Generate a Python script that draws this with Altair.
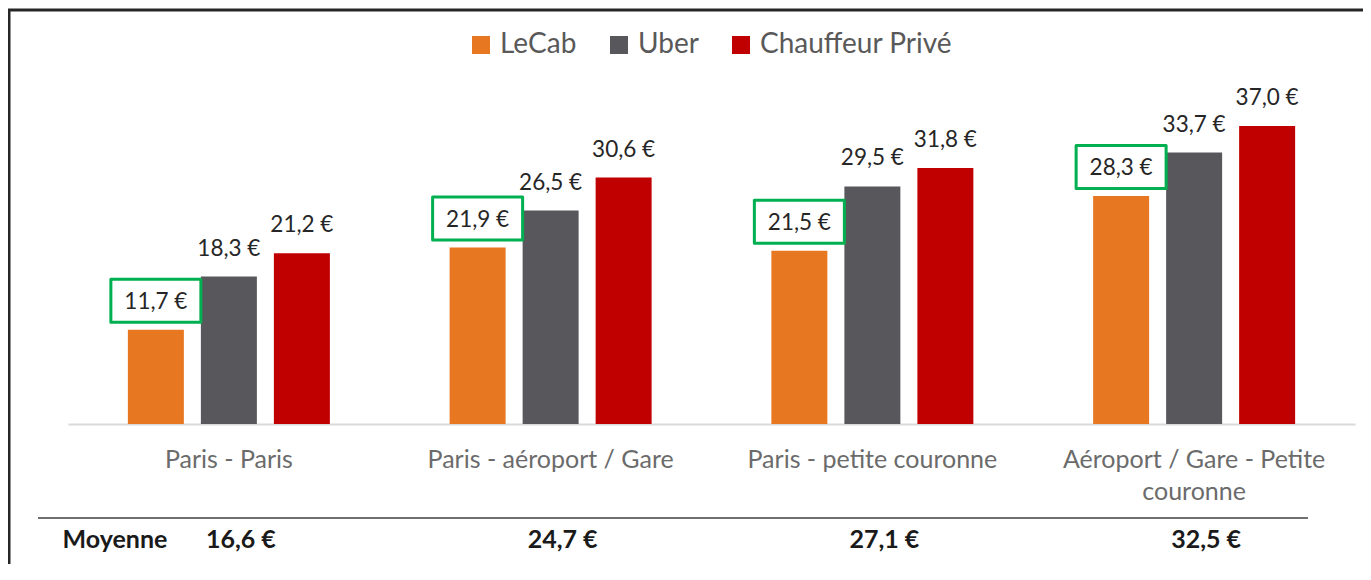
import altair as alt
import pandas as pd

categories = ["Paris - Paris", "Paris - aéroport / Gare", "Paris - petite couronne",
              "Aéroport / Gare - Petite couronne"]
series = ["LeCab", "Uber", "Chauffeur Privé"]
lecab = [11.7, 21.9, 21.5, 28.3]
uber = [18.3, 26.5, 29.5, 33.7]
chauffeur = [21.2, 30.6, 31.8, 37.0]
moyenne = [16.6, 24.7, 27.1, 32.5]
colors = ["#E87722", "#58575C", "#C00000"]

rows = []
for i, c in enumerate(categories):
    for s, vals in zip(series, [lecab, uber, chauffeur]):
        rows.append({"route": c, "operator": s, "price": vals[i]})
df = pd.DataFrame(rows)
avg_df = pd.DataFrame({"route": categories, "avg": moyenne})
one = pd.DataFrame({"k": [0]})

W, H = 1287, 404
YMAX = 50.16
FONT = "Lato"

label_expr = ("datum.value == 'Aéroport / Gare - Petite couronne' ? "
              "['Aéroport / Gare - Petite', 'couronne'] : datum.label")

x_enc = alt.X("route:N", sort=categories,
              scale=alt.Scale(domain=categories, paddingInner=0.3193, paddingOuter=0.15965),
              axis=alt.Axis(title=None, ticks=False, domainColor="#D9D9D9", domainWidth=2,
                            labelFont=FONT, labelFontSize=25, labelColor="#6B6B6B",
                            labelPadding=43, labelBaseline="alphabetic", labelAngle=0,
                            labelLineHeight=32, labelLimit=500, labelOverlap=False,
                            labelExpr=label_expr, grid=False))
xo_enc = alt.XOffset("operator:N", sort=series,
                     scale=alt.Scale(domain=series, paddingInner=0.233, paddingOuter=0.1165))
y_enc = alt.Y("price:Q", scale=alt.Scale(domain=[0, YMAX], nice=False, zero=True), axis=None)

base = alt.Chart(df).transform_calculate(
    label="replace(format(datum.price, '.1f'), '.', ',') + ' €'"
)

bars = base.mark_bar().encode(
    x=x_enc, xOffset=xo_enc, y=y_enc,
    color=alt.Color("operator:N", sort=series,
                    scale=alt.Scale(domain=series, range=colors),
                    legend=alt.Legend(title=None, orient="none", legendX=399, legendY=11,
                                      direction="horizontal",
                                      symbolType="M-1,-1H1V1H-1Z", symbolSize=324,
                                      symbolStrokeWidth=0, symbolOpacity=1,
                                      labelFont=FONT, labelFontSize=28, labelColor="#595959",
                                      labelOffset=5, columnPadding=28, labelLimit=500)),
)

boxes = base.transform_filter("datum.operator == 'LeCab'").mark_point(
    shape="M-1,-0.478H1V0.478H-1Z", size=8100, filled=False, stroke="#00B050",
    strokeWidth=3, opacity=1, yOffset=-29, strokeJoin="round"
).encode(x=x_enc, xOffset=xo_enc, y=y_enc)

labels = base.mark_text(dy=-28, baseline="middle", font=FONT, fontSize=22.5,
                        color="#262626").encode(
    x=x_enc, xOffset=xo_enc, y=y_enc, text="label:N")

avg_text = alt.Chart(avg_df).transform_calculate(
    t="replace(format(datum.avg, '.1f'), '.', ',') + ' €'"
).mark_text(font=FONT, fontSize=25, fontWeight="bold", color="#1A1A1A",
            baseline="middle", dx=12).encode(
    x=x_enc, y=alt.value(520), text="t:N")

moy_label = alt.Chart(one).mark_text(font=FONT, fontSize=25, fontWeight="bold",
                                     color="#1A1A1A", baseline="middle").encode(
    x=alt.value(47), y=alt.value(520), text=alt.value("Moyenne"))

moy_rule = alt.Chart(one).mark_rule(color="#404040", strokeWidth=1.5).encode(
    x=alt.value(-30), x2=alt.value(1240), y=alt.value(498))

frame_top = alt.Chart(one).mark_rule(color="#262626", strokeWidth=3).encode(
    x=alt.value(-60), x2=alt.value(W + 8), y=alt.value(-10))
frame_left = alt.Chart(one).mark_rule(color="#262626", strokeWidth=3).encode(
    x=alt.value(-59), y=alt.value(-11), y2=alt.value(H + 140))

chart = alt.layer(bars, boxes, labels, avg_text, moy_label, moy_rule,
                  frame_top, frame_left).properties(
    width=W, height=H,
    autosize=alt.AutoSizeParams(type="none"),
    padding={"left": 60, "top": 12, "right": 8, "bottom": 140},
).configure_view(stroke=None)

chart.save("out.html", embed_options={"renderer": "svg", "actions": False})
